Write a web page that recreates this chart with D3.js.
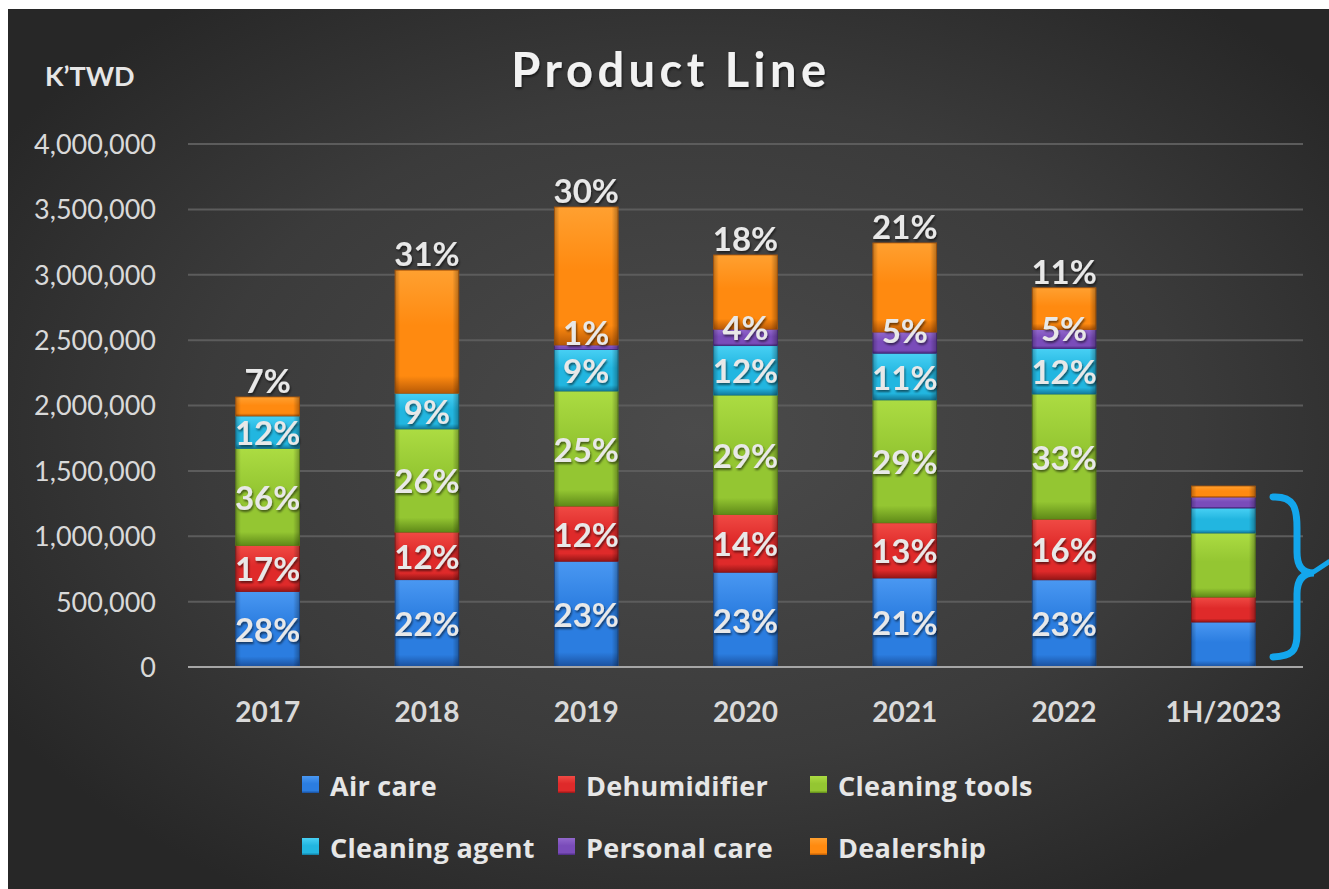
<!DOCTYPE html>
<html>
<head>
<meta charset="utf-8">
<script src="https://cdn.jsdelivr.net/npm/d3@7"></script>
<style>
  html, body { margin: 0; padding: 0; background: #ffffff; }
  svg { display: block; font-family: Lato, "Open Sans", "DejaVu Sans", sans-serif; }
</style>
</head>
<body>
<svg id="chart" width="1329" height="889"></svg>
<script>
// ---- data (K'TWD) ----
const categories = ["2017", "2018", "2019", "2020", "2021", "2022", "1H/2023"];
const seriesNames = ["Air care", "Dehumidifier", "Cleaning tools", "Cleaning agent", "Personal care", "Dealership"];
const airCare      = [578, 668, 809, 725, 681, 667, 344].map(v => v * 1000);
const dehumidifier = [351, 364, 422, 441, 422, 464, 191].map(v => v * 1000);
const cleaningTools= [743, 789, 880, 914, 940, 957, 490].map(v => v * 1000);
const cleaningAgent= [248, 273, 317, 378, 357, 348, 191].map(v => v * 1000);
const personalCare = [0,   0,   35,  126, 162, 145, 84 ].map(v => v * 1000);
const dealership   = [145, 941, 1055, 567, 681, 319, 84 ].map(v => v * 1000);
const showLabels   = [true, true, true, true, true, true, false];
const yTicks = [0, 500000, 1000000, 1500000, 2000000, 2500000, 3000000, 3500000, 4000000];

const seriesValues = [airCare, dehumidifier, cleaningTools, cleaningAgent, personalCare, dealership];
const colors = [
  {base: "#2b7de0", light: "#4a98f2", dark: "#1a4f9c"},
  {base: "#df2a2a", light: "#f04a44", dark: "#961616"},
  {base: "#94c632", light: "#acdc42", dark: "#5f8a18"},
  {base: "#22b6e0", light: "#48d0f4", dark: "#137a9c"},
  {base: "#7a4cba", light: "#9268cc", dark: "#4a2a80"},
  {base: "#ff8a10", light: "#ffa030", dark: "#b85a06"}
];

const svg = d3.select("#chart");
const defs = svg.append("defs");

// background gradient
const bg = defs.append("radialGradient").attr("id", "bg")
  .attr("cx", "52%").attr("cy", "48%").attr("r", "62%");
bg.append("stop").attr("offset", "0%").attr("stop-color", "#4b4b4b");
bg.append("stop").attr("offset", "60%").attr("stop-color", "#3b3b3b");
bg.append("stop").attr("offset", "100%").attr("stop-color", "#272727");

colors.forEach((c, i) => {
  const g = defs.append("linearGradient").attr("id", "g" + i)
    .attr("x1", 0).attr("y1", 0).attr("x2", 0).attr("y2", 1);
  g.append("stop").attr("offset", "0%").attr("stop-color", c.light);
  g.append("stop").attr("offset", "45%").attr("stop-color", c.base);
  g.append("stop").attr("offset", "86%").attr("stop-color", c.base);
  g.append("stop").attr("offset", "100%").attr("stop-color", c.dark);
});
const side = defs.append("linearGradient").attr("id", "side")
  .attr("x1", 0).attr("y1", 0).attr("x2", 1).attr("y2", 0);
side.append("stop").attr("offset", "0%").attr("stop-color", "#000").attr("stop-opacity", 0.25);
side.append("stop").attr("offset", "8%").attr("stop-color", "#000").attr("stop-opacity", 0);
side.append("stop").attr("offset", "90%").attr("stop-color", "#000").attr("stop-opacity", 0);
side.append("stop").attr("offset", "100%").attr("stop-color", "#000").attr("stop-opacity", 0.3);

const shadow = defs.append("filter").attr("id", "ts")
  .attr("x", "-20%").attr("y", "-20%").attr("width", "140%").attr("height", "140%");
shadow.append("feDropShadow").attr("dx", 1).attr("dy", 2).attr("stdDeviation", 1.2)
  .attr("flood-color", "#000").attr("flood-opacity", 0.55);

svg.append("rect").attr("x", 8).attr("y", 9).attr("width", 1321).attr("height", 880)
  .attr("fill", "url(#bg)");

// scales
const x = d3.scaleBand().domain(categories).range([188, 1303])
  .paddingInner(0.6).paddingOuter(0.3);
const y = d3.scaleLinear().domain([0, 4000000]).range([667, 144]);

// gridlines
svg.append("g").selectAll("line").data(yTicks.filter(d => d > 0)).join("line")
  .attr("x1", 188).attr("x2", 1303)
  .attr("y1", d => y(d)).attr("y2", d => y(d))
  .attr("stroke", "#5c5c5c").attr("stroke-width", 2);

// y axis labels
const yAxis = d3.axisLeft(y).tickValues(yTicks).tickSize(0).tickPadding(0)
  .tickFormat(d3.format(","));
const ya = svg.append("g").attr("transform", "translate(156,0)").call(yAxis);
ya.select(".domain").remove();
ya.selectAll("text").attr("fill", "#d9d9d9").attr("font-size", 27)
  .style("font-family", "Lato, sans-serif").attr("dy", "0.35em");

// stacked data
const table = categories.map((c, i) => {
  const o = {cat: c};
  seriesNames.forEach((s, j) => o[s] = seriesValues[j][i]);
  return o;
});
const stacked = d3.stack().keys(seriesNames)(table);

const barG = svg.append("g");
stacked.forEach((layer, si) => {
  const g = barG.append("g");
  layer.forEach((d, ci) => {
    if (d[1] - d[0] <= 0) return;
    const x0 = x(categories[ci]), w = x.bandwidth();
    const y0 = y(d[1]), h = y(d[0]) - y(d[1]);
    g.append("rect").attr("x", x0).attr("y", y0).attr("width", w).attr("height", h)
      .attr("fill", `url(#g${si})`).attr("stroke", colors[si].dark).attr("stroke-width", 0.8);
    g.append("rect").attr("x", x0).attr("y", y0).attr("width", w).attr("height", h)
      .attr("fill", "url(#side)");
  });
});

// x axis baseline
svg.append("line").attr("x1", 188).attr("x2", 1303).attr("y1", y(0)).attr("y2", y(0))
  .attr("stroke", "#a6a6a6").attr("stroke-width", 2);

const xAxis = d3.axisBottom(x).tickSize(0).tickPadding(0);
const xa = svg.append("g").attr("transform", `translate(0,${y(0)})`).call(xAxis);
xa.select(".domain").remove();
xa.selectAll("text").attr("fill", "#d9d9d9").attr("font-size", 28).attr("font-weight", "bold")
  .style("font-family", "Lato, sans-serif").attr("y", 55).attr("dy", 0);

// percentage labels
const labelG = svg.append("g").attr("filter", "url(#ts)");
categories.forEach((c, ci) => {
  if (!showLabels[ci]) return;
  const total = d3.sum(seriesValues, s => s[ci]);
  let prevCenter = null;
  stacked.forEach((layer, si) => {
    const d = layer[ci];
    const v = d[1] - d[0];
    if (v <= 0) return;
    const pct = Math.round(v / total * 100) + "%";
    let ty, base;
    if (si === seriesNames.length - 1) { ty = y(d[1]) - 4; base = "alphabetic"; }
    else if (seriesNames[si] === "Personal care") {
      ty = y(d[1]) - 2;
      if (prevCenter !== null) ty = Math.min(ty, prevCenter - 38);
      base = "central";
    }
    else { ty = (y(d[0]) + y(d[1])) / 2; base = "central"; prevCenter = ty; }
    labelG.append("text").attr("x", x(c) + x.bandwidth() / 2).attr("y", ty)
      .attr("text-anchor", "middle").attr("dominant-baseline", base)
      .attr("fill", "#e8e8e8").attr("font-size", 33).attr("font-weight", "bold")
      .text(pct);
  });
});

// title and unit
svg.append("text").attr("x", 671).attr("y", 87).attr("text-anchor", "middle")
  .attr("fill", "#f2f2f2").attr("font-size", 47).attr("font-weight", "bold")
  .attr("letter-spacing", 4.5).attr("filter", "url(#ts)").text("Product Line");
svg.append("text").attr("x", 45).attr("y", 86)
  .attr("fill", "#e6e6e6").attr("font-size", 27).attr("font-weight", "bold").text("K’TWD");

// legend
const legendPos = [[302, 785], [558, 785], [810, 785], [302, 847], [558, 847], [810, 847]];
const lg = svg.append("g");
seriesNames.forEach((s, i) => {
  const [lx, ly] = legendPos[i];
  lg.append("rect").attr("x", lx).attr("y", ly - 9).attr("width", 17).attr("height", 17)
    .attr("fill", `url(#g${i})`);
  lg.append("text").attr("x", lx + 28).attr("y", ly).attr("dominant-baseline", "central")
    .attr("fill", "#e6e6e6").attr("font-size", 27).attr("font-weight", "bold")
    .style("font-family", "'Open Sans', Lato, sans-serif").attr("letter-spacing", 0.3).text(s);
});

// brace annotation
svg.append("path")
  .attr("d", "M1273,497 C1294,496 1297,508 1297,528 L1297,552 C1297,566 1302,573 1314,573 C1302,573 1297,581 1297,594 L1297,634 C1297,651 1292,656 1273,657")
  .attr("fill", "none").attr("stroke", "#13a6ec").attr("stroke-width", 7).attr("stroke-linecap", "round");
svg.append("path")
  .attr("d", "M1312,573 L1330,561")
  .attr("fill", "none").attr("stroke", "#13a6ec").attr("stroke-width", 5);
</script>
</body>
</html>
